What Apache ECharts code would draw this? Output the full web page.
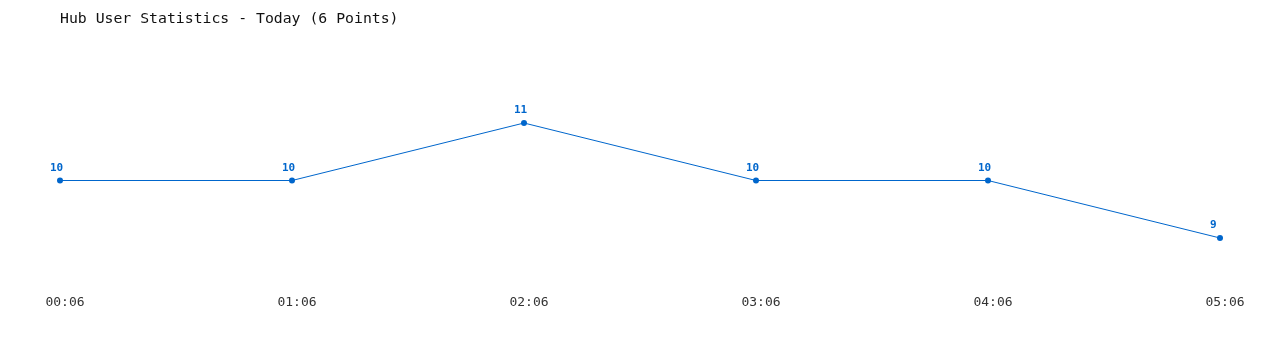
<!DOCTYPE html>
<html><head><meta charset="utf-8">
<script src="https://cdn.jsdelivr.net/npm/echarts@6/dist/echarts.min.js"></script>
<style>html,body{margin:0;padding:0;background:#fff}#c{width:1280px;height:350px}</style>
</head><body><div id="c"></div>
<script>
const categories = ["00:06","01:06","02:06","03:06","04:06","05:06"];
const users = [10,10,11,10,10,9];
const titleText = "Hub User Statistics - Today (6 Points)";
const chart = echarts.init(document.getElementById('c'));
chart.setOption({
  animation:false,
  backgroundColor:'#ffffff',
  title:{text:titleText,left:55,top:7,textStyle:{fontFamily:'DejaVu Sans Mono',fontSize:14.8,fontWeight:'normal',color:'#111'}},
  grid:{left:60,right:60,top:65.5,height:230,containLabel:false},
  xAxis:{type:'category',data:categories,boundaryGap:false,
    axisLine:{show:false},axisTick:{show:false},splitLine:{show:false},
    axisLabel:{margin:1,padding:[0,0,0,10],fontFamily:'DejaVu Sans Mono',fontSize:13,color:'#333'}},
  yAxis:{type:'value',min:8,max:12,show:false,splitLine:{show:false}},
  series:[{type:'line',data:users,color:'#0066cc',symbol:'circle',symbolSize:6,
    lineStyle:{width:1,color:'#0066cc'},itemStyle:{color:'#0066cc'},
    label:{show:true,position:'top',distance:4,align:'left',offset:[-10,0],fontFamily:'DejaVu Sans Mono',fontSize:11,fontWeight:'bold',color:'#0066cc'}}]
});
</script></body></html>
